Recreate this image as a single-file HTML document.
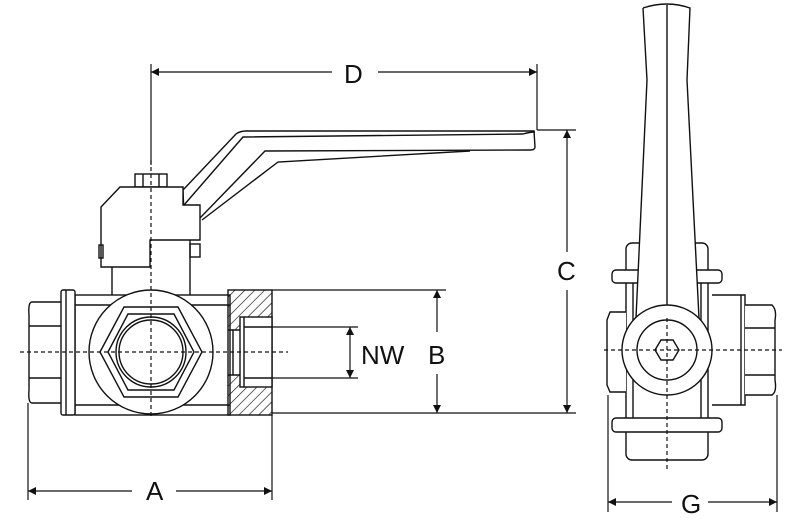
<!DOCTYPE html>
<html><head><meta charset="utf-8"><style>
html,body{margin:0;padding:0;background:#fff;}
svg{display:block}
text{font-family:"Liberation Sans",sans-serif;font-size:26px;fill:#111;}
</style></head><body>
<svg width="800" height="524" viewBox="0 0 800 524" xmlns="http://www.w3.org/2000/svg">
<defs>
<pattern id="h" width="7" height="7" patternUnits="userSpaceOnUse" patternTransform="rotate(45)">
<line x1="0" y1="0" x2="0" y2="7" stroke="#111" stroke-width="1.3"/></pattern>
<marker id="a" viewBox="0 0 10 10" refX="10" refY="5" markerWidth="10" markerHeight="8" orient="auto-start-reverse" markerUnits="userSpaceOnUse"><path d="M0,0 L10,5 L0,10z" fill="#111"/></marker>
</defs>
<g fill="none" stroke="#111" stroke-width="1.4">
<!-- handle -->
<path d="M183,190 L236,134 Q240,131 246,131 L534,131 L535,147 Q535,150 530,150 L265,151 L200,218 Q186,228 184,216 Z" fill="#fff"/>
<path d="M184,205 L243,137 L523,134 Q530,132 535,132"/>
<path d="M470,151 L278,162 L202,220"/>
<!-- actuator -->
<rect x="135" y="174" width="32" height="13" fill="#fff"/>
<line x1="143" y1="174" x2="143" y2="187"/><line x1="159" y1="174" x2="159" y2="187"/>
<path d="M101,207 L120,187 L183,187 L183,205 L200,205 L200,240 L150,240 L150,267 L101,267 Z" fill="#fff"/>
<rect x="190" y="244" width="10" height="13"/>
<rect x="99" y="245" width="4" height="13"/>
<path d="M112,267 L112,295 M190,240 L190,295"/>
<!-- body -->
<rect x="75" y="295" width="155" height="120" fill="#fff"/>
<line x1="75" y1="305" x2="230" y2="305"/><line x1="75" y1="405" x2="230" y2="405"/>
<path d="M32,302 L62,302 L62,403 L32,403 Q28,403 29,390 L29,315 Q28,302 32,302Z" fill="#fff"/>
<line x1="29" y1="326" x2="62" y2="326"/><line x1="29" y1="378" x2="62" y2="378"/>
<rect x="61" y="290" width="14" height="125" rx="2" fill="#fff"/>
<line x1="66" y1="290" x2="66" y2="415"/>
<circle cx="151" cy="352" r="62" fill="#fff"/>
<polygon points="100,352 124,307 178,307 202,352 178,397 124,397" fill="#fff"/>
<polygon points="108,352 128,314 174,314 194,352 174,390 128,390"/>
<circle cx="151" cy="352" r="35"/>
<circle cx="151" cy="352" r="32"/>
<!-- right port section -->
<path fill-rule="evenodd" fill="url(#h)" stroke="none" d="M228,290 L272,290 L272,415 L228,415 Z M240,317 L272,317 L272,387 L240,387 Z M228,330 L240,330 L240,375 L228,375 Z"/>
<rect x="228" y="290" width="44" height="125"/>
<rect x="240" y="317" width="32" height="70" fill="#fff"/>
<line x1="244" y1="327" x2="272" y2="327"/><line x1="244" y1="378" x2="272" y2="378"/>
<line x1="244" y1="317" x2="244" y2="387"/>
<path d="M228,330 L240,330 M228,375 L240,375 M233,330 L233,375"/>
<!-- side view -->
<rect x="626" y="243" width="82" height="217" rx="6" fill="#fff"/>
<rect x="612" y="270" width="110" height="13" rx="4" fill="#fff"/>
<rect x="612" y="418" width="110" height="14" rx="4" fill="#fff"/>
<line x1="633" y1="283" x2="633" y2="418"/><line x1="701" y1="283" x2="701" y2="418"/>
<path d="M626,312 L610,312 L607,320 L607,385 L610,392 L626,392" fill="#fff"/>
<path d="M712,295 L745,295 L745,405 L712,405" fill="#fff"/>
<line x1="741" y1="295" x2="741" y2="405"/>
<path d="M745,305 L772,305 Q777,310 775,320 L775,380 Q777,392 772,395 L745,395" fill="#fff"/>
<line x1="745" y1="328" x2="775" y2="328"/><line x1="745" y1="375" x2="775" y2="375"/>
<path d="M643,8 Q667,0 690,8 L687,80 L699,318 L636,318 L647,80 Z" fill="#fff" stroke="none"/>
<path d="M643,8 Q667,0 690,8 L687,80 L699,318 M636,318 L647,80 L643,8"/>
<circle cx="667" cy="350" r="45" fill="#fff"/>
<circle cx="667" cy="350" r="30"/>
<polygon points="655,350 661,340 673,340 679,350 673,360 661,360"/>
<line x1="667" y1="5" x2="667" y2="305"/>
</g>
<!-- center lines -->
<g stroke="#111" stroke-width="1.2" stroke-dasharray="4,3" fill="none">
<line x1="20" y1="352" x2="288" y2="352"/>
<line x1="151" y1="160" x2="151" y2="418"/>
<line x1="604" y1="350" x2="782" y2="350"/>
<line x1="667" y1="318" x2="667" y2="470"/>
</g>
<!-- dimensions -->
<g stroke="#111" stroke-width="1.2" fill="none">
<line x1="151" y1="64" x2="151" y2="165"/>
<line x1="537" y1="64" x2="537" y2="130"/>
<line x1="151" y1="72" x2="332" y2="72" marker-start="url(#a)"/>
<line x1="378" y1="72" x2="537" y2="72" marker-end="url(#a)"/>
<line x1="537" y1="130" x2="576" y2="130"/>
<line x1="272" y1="413" x2="576" y2="413"/>
<line x1="567" y1="130" x2="567" y2="252" marker-start="url(#a)"/>
<line x1="567" y1="290" x2="567" y2="413" marker-end="url(#a)"/>
<line x1="272" y1="290" x2="446" y2="290"/>
<line x1="437" y1="290" x2="437" y2="332" marker-start="url(#a)"/>
<line x1="437" y1="374" x2="437" y2="413" marker-end="url(#a)"/>
<line x1="272" y1="327" x2="358" y2="327"/>
<line x1="272" y1="378" x2="358" y2="378"/>
<line x1="350" y1="327" x2="350" y2="378" marker-start="url(#a)" marker-end="url(#a)"/>
<line x1="28" y1="403" x2="28" y2="500"/>
<line x1="272" y1="415" x2="272" y2="500"/>
<line x1="28" y1="491" x2="132" y2="491" marker-start="url(#a)"/>
<line x1="176" y1="491" x2="272" y2="491" marker-end="url(#a)"/>
<line x1="608" y1="395" x2="608" y2="512"/>
<line x1="777" y1="395" x2="777" y2="512"/>
<line x1="608" y1="502" x2="672" y2="502" marker-start="url(#a)"/>
<line x1="708" y1="502" x2="777" y2="502" marker-end="url(#a)"/>
</g>
<text x="344" y="83">D</text>
<text x="557" y="280">C</text>
<text x="428" y="364">B</text>
<text x="361" y="364">NW</text>
<text x="146" y="500">A</text>
<text x="681" y="513">G</text>
</svg>
</body></html>
